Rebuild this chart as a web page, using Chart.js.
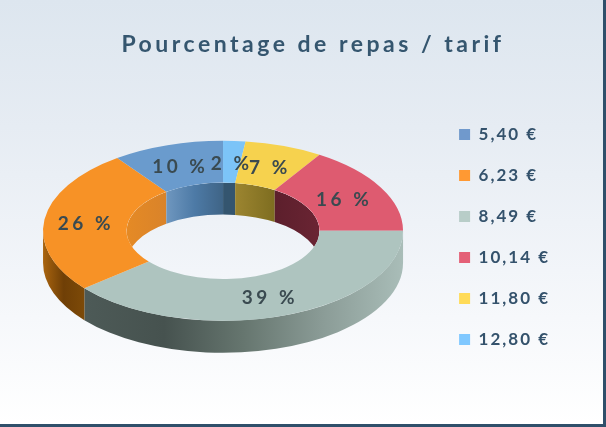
<!DOCTYPE html>
<html lang="fr">
<head>
<meta charset="utf-8">
<title>Pourcentage de repas / tarif</title>
<script src="https://cdn.jsdelivr.net/npm/chart.js@4/dist/chart.umd.min.js"></script>
<style>
  html, body { margin: 0; padding: 0; background: #fff; }
  #cadre {
    position: relative; width: 603px; height: 424px; overflow: hidden;
    border-right: 3px solid #2f4f6a; border-bottom: 3px solid #2f4f6a;
    background: linear-gradient(#dde6ef 0%, #e6ecf3 30%, #f6f8fb 75%, #ffffff 100%);
  }
  canvas { display: block; }
</style>
</head>
<body>
<div id="cadre"><canvas id="repasChart" width="603" height="424"></canvas></div>
<script>
// données du graphique
const tarifs = ['5,40 €', '6,23 €', '8,49 €', '10,14 €', '11,80 €', '12,80 €'];
const pourcentages = [10, 26, 39, 16, 7, 2];

// couleurs par tarif
const couleursDessus = ['#6a9bcd', '#f79226', '#aec4bf', '#de5b70', '#f6d24e', '#7cc4f8'];
const couleursLegende = ['#7099cc', '#ff9933', '#b8cdc8', '#e46077', '#ffdb58', '#80c8ff'];
const couleursExterieur = [
  ['#4a6f96', '#3d6184'],
  ['#a9640f', '#6f3f06', '#7d4a08'],
  ['#4d5a57', '#46524f', '#66766f', '#8b9c97', '#a9bdb8'],
  ['#8a3040', '#8a3040'],
  ['#8e7a28', '#8e7a28'],
  ['#4a7da6', '#4a7da6']
];
const couleursInterieur = [
  ['#6f97bf', '#4d7aa6', '#3f6486'],
  ['#e58a25', '#d9832a'],
  ['#7f928e', '#7f928e'],
  ['#5c1f2c', '#6a2433'],
  ['#9c8530', '#7e6d20'],
  ['#34556f', '#34556f']
];

const ECRASEMENT = 0.5;  // ellipse du dessus
const EPAISSEUR = 32;    // hauteur de l'anneau

function cheminParoi(ctx, x, y, rx, ry, a0, a1) {
  ctx.beginPath();
  ctx.ellipse(x, y, rx, ry, 0, a0, a1);
  ctx.ellipse(x, y + EPAISSEUR, rx, ry, 0, a1, a0, true);
  ctx.closePath();
}

function degrade(ctx, x0, x1, couleurs) {
  const g = ctx.createLinearGradient(x0, 0, x1, 0);
  couleurs.forEach((c, i) => g.addColorStop(i / (couleurs.length - 1), c));
  return g;
}

function parois(ctx, arcs) {
  // paroi extérieure : moitié basse de l'ellipse
  arcs.forEach((arc, n) => {
    const i = tarifs.length - 1 - n;
    const p = arc.getProps(['x', 'y', 'startAngle', 'endAngle', 'outerRadius']);
    const a0 = Math.max(p.startAngle, 0);
    const a1 = Math.min(p.endAngle, Math.PI);
    if (a1 <= a0) return;
    const x0 = p.x + p.outerRadius * Math.cos(a1);
    const x1 = p.x + p.outerRadius * Math.cos(a0);
    cheminParoi(ctx, p.x, p.y, p.outerRadius, p.outerRadius * ECRASEMENT, a0, a1);
    ctx.fillStyle = degrade(ctx, x0, x1, couleursExterieur[i]);
    ctx.fill();
  });

  // paroi intérieure : moitié haute, limitée au trou
  const c = arcs[0].getProps(['x', 'y', 'innerRadius']);
  ctx.save();
  ctx.beginPath();
  ctx.ellipse(c.x, c.y, c.innerRadius, c.innerRadius * ECRASEMENT, 0, 0, Math.PI * 2);
  ctx.clip();
  arcs.forEach((arc, n) => {
    const i = tarifs.length - 1 - n;
    const p = arc.getProps(['x', 'y', 'startAngle', 'endAngle', 'innerRadius']);
    [[-Math.PI / 2, 0], [Math.PI, Math.PI * 1.5]].forEach(([d, f]) => {
      const a0 = Math.max(p.startAngle, d);
      const a1 = Math.min(p.endAngle, f);
      if (a1 <= a0) return;
      const xa = p.x + p.innerRadius * Math.cos(a0);
      const xb = p.x + p.innerRadius * Math.cos(a1);
      cheminParoi(ctx, p.x, p.y, p.innerRadius, p.innerRadius * ECRASEMENT, a0, a1);
      ctx.fillStyle = degrade(ctx, Math.min(xa, xb), Math.max(xa, xb), couleursInterieur[i]);
      ctx.fill();
    });
  });
  ctx.restore();
}

function etiquettes(chart, arcs) {
  const ctx = chart.ctx;
  ctx.save();
  ctx.font = 'bold 19px Lato';
  ctx.letterSpacing = '3.5px';
  ctx.fillStyle = '#3a4a50';
  ctx.textAlign = 'center';
  ctx.textBaseline = 'middle';
  // du premier tarif au dernier, le suivant passe par-dessus
  [...arcs].reverse().forEach((arc, n) => {
    const p = arc.getProps(['x', 'y', 'startAngle', 'endAngle', 'innerRadius', 'outerRadius']);
    const milieu = (p.startAngle + p.endAngle) / 2;
    const r = (p.innerRadius + p.outerRadius) / 2;
    const x = p.x + r * Math.cos(milieu);
    const y = p.y + r * ECRASEMENT * Math.sin(milieu);
    ctx.fillText(pourcentages[n] + ' %', x, y + 2);
  });
  ctx.restore();
}

const anneau3d = {
  id: 'anneau3d',
  beforeLayout(chart) { chart.ctx.letterSpacing = '2px'; },
  // titre et légende ne suivent pas la zone du graphique dans la référence
  afterUpdate(chart) {
    const ctx = chart.ctx;
    const titre = chart.titleBlock;
    const legende = chart.legend;
    titre.left += 27.5;
    titre.right += 27.5;
    legende.left -= 3;
    legende.right -= 3;
    legende.top += 49;
    legende.bottom += 49;
    const dessinTitre = titre.draw;
    titre.draw = function () {
      ctx.letterSpacing = '3.5px';
      dessinTitre.call(titre);
      ctx.letterSpacing = '2px';
    };
  },
  beforeDraw(chart) { chart.ctx.letterSpacing = '2px'; },
  beforeDatasetsDraw(chart) {
    const ctx = chart.ctx;
    const arcs = chart.getDatasetMeta(0).data;
    parois(ctx, arcs);
    const { x, y } = arcs[0].getProps(['x', 'y']);
    ctx.save();
    ctx.translate(x, y);
    ctx.scale(1, ECRASEMENT);
    ctx.translate(-x, -y);
  },
  afterDatasetsDraw(chart) {
    chart.ctx.restore();
    etiquettes(chart, chart.getDatasetMeta(0).data);
  }
};

// Chart.js tourne en sens horaire, la référence en sens inverse
new Chart(document.getElementById('repasChart').getContext('2d'), {
  type: 'doughnut',
  data: {
    labels: [...tarifs].reverse(),
    datasets: [{
      data: [...pourcentages].reverse(),
      backgroundColor: [...couleursDessus].reverse(),
      borderWidth: 0,
      clip: false
    }]
  },
  options: {
    responsive: false,
    animation: false,
    events: [],
    radius: 180,
    cutout: '53.6%',
    layout: { padding: { left: 8, right: 40, top: 0, bottom: 48 } },
    plugins: {
      tooltip: { enabled: false },
      title: {
        display: true,
        text: 'Pourcentage de repas / tarif',
        color: '#35566f',
        font: { family: 'Lato', size: 23, weight: 'bold' },
        padding: { top: 31, bottom: 27 }
      },
      legend: {
        position: 'right',
        reverse: true,
        labels: {
          boxWidth: 11,
          boxHeight: 11,
          padding: 24,
          font: { family: 'Lato', size: 17, weight: 'bold' },
          generateLabels(chart) {
            return chart.data.labels.map((t, n) => ({
              text: t,
              fillStyle: couleursLegende[tarifs.indexOf(t)],
              fontColor: '#34526c',
              strokeStyle: 'transparent',
              lineWidth: 0,
              index: n
            }));
          }
        }
      }
    }
  },
  plugins: [anneau3d]
});
</script>
</body>
</html>
